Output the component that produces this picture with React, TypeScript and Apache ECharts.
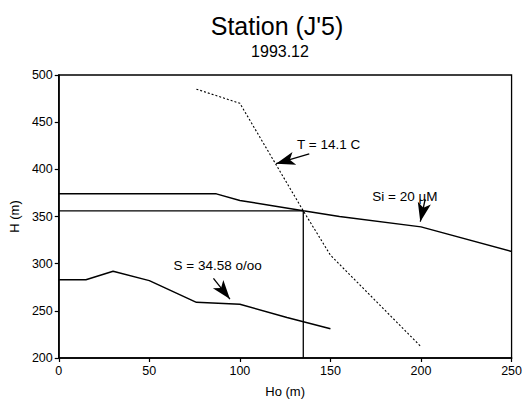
import React, { useEffect, useRef } from "react";
import * as echarts from "echarts";

// Horizontal distance Ho (m) and depth H (m) for each isoline
const hoSi = [0, 87, 100, 135, 155, 200, 250];
const hSi = [374, 374, 367, 356, 350, 339, 313];

const hoT = [76, 100, 135, 150, 200];
const hT = [485, 470, 356, 309, 212];

const hoS = [0, 15, 30, 50, 76, 100, 126, 150];
const hS = [283, 283, 292, 282, 259, 257, 243, 231];

// Point where the Si and T isolines cross
const crossHo = 135;
const crossH = 356;

// Annotation texts, their anchor and arrow tail / tip (data units)
const labelTexts = ["T = 14.1 C", "Si = 20 µM", "S = 34.58 o/oo"];
const labelAt = [
  [131.6, 426],
  [173.1, 371],
  [63.4, 297.6],
];
const arrowTail = [
  [138.3, 416.3],
  [202.3, 368.3],
  [85.4, 284.5],
];
const arrowTip = [
  [120, 406],
  [199.6, 344.5],
  [94.5, 262.5],
];

const xTicks = { min: 0, max: 250, interval: 50 };
const yTicks = { min: 200, max: 500, interval: 50 };

const FONT = "Liberation Sans";

const zip = (xs: number[], ys: number[]) => xs.map((x, i) => [x, ys[i]]);

export default function App() {
  const ref = useRef<HTMLDivElement>(null);

  useEffect(() => {
    if (!ref.current) return;
    const chart = echarts.init(ref.current, undefined, { renderer: "svg" });

    const annotation = (i: number) => ({
      markLine: {
        silent: true,
        animation: false,
        label: { show: false },
        lineStyle: { color: "#000", width: 1.3, type: "solid" },
        data: [
          [
            { coord: arrowTail[i], symbol: "none" },
            { coord: arrowTip[i], symbol: "arrow", symbolSize: [10, 19] },
          ],
        ],
      },
      markPoint: {
        silent: true,
        animation: false,
        symbol: "circle",
        symbolSize: 0,
        data: [{ coord: labelAt[i], value: labelTexts[i] }],
        label: {
          show: true,
          position: "right",
          distance: 0,
          formatter: labelTexts[i],
          color: "#000",
          fontFamily: FONT,
          fontSize: 13.5,
        },
      },
    });

    const axisCommon = {
      axisLine: { show: true, lineStyle: { color: "#000", width: 1.6 } },
      axisTick: { show: true, inside: false, length: 4, lineStyle: { color: "#000", width: 1.2 } },
      splitLine: { show: false },
      nameTextStyle: { color: "#000", fontFamily: FONT, fontSize: 13 },
    };

    chart.setOption({
      animation: false,
      backgroundColor: "#fff",
      title: [
        {
          text: "Station (J'5)",
          left: 272,
          top: 8,
          textAlign: "center",
          textStyle: { color: "#000", fontFamily: FONT, fontSize: 25, fontWeight: "normal" },
        },
        {
          text: "1993.12",
          left: 275,
          top: 38,
          textAlign: "center",
          textStyle: { color: "#000", fontFamily: FONT, fontSize: 16, fontWeight: "normal" },
        },
      ],
      grid: {
        left: 56,
        right: 13,
        top: 75,
        bottom: 45,
        show: true,
        borderColor: "#000",
        borderWidth: 1.3,
        backgroundColor: "transparent",
      },
      xAxis: {
        type: "value",
        ...xTicks,
        name: "Ho (m)",
        nameLocation: "middle",
        nameGap: 27,
        ...axisCommon,
        axisLabel: { color: "#000", fontFamily: FONT, fontSize: 12.5, margin: 6 },
      },
      yAxis: {
        type: "value",
        ...yTicks,
        name: "H (m)",
        nameLocation: "middle",
        nameGap: 36,
        ...axisCommon,
        axisLabel: { color: "#000", fontFamily: FONT, fontSize: 12.5, margin: 6 },
      },
      series: [
        {
          name: "T",
          type: "line",
          data: zip(hoT, hT),
          symbol: "none",
          silent: true,
          lineStyle: { color: "#000", width: 1.1, type: [2, 2] },
          ...annotation(0),
        },
        {
          name: "Si",
          type: "line",
          data: zip(hoSi, hSi),
          symbol: "none",
          silent: true,
          lineStyle: { color: "#000", width: 1.5 },
          ...annotation(1),
        },
        {
          name: "S",
          type: "line",
          data: zip(hoS, hS),
          symbol: "none",
          silent: true,
          lineStyle: { color: "#000", width: 1.5 },
          ...annotation(2),
        },
        {
          name: "crossing",
          type: "line",
          data: [
            [0, crossH],
            [crossHo, crossH],
            [crossHo, yTicks.min],
          ],
          symbol: "none",
          silent: true,
          lineStyle: { color: "#000", width: 1.3 },
        },
      ],
    });

    return () => chart.dispose();
  }, []);

  return (
    <div
      ref={ref}
      style={{ position: "fixed", left: 0, top: 0, width: 525, height: 403, background: "#fff" }}
    />
  );
}
